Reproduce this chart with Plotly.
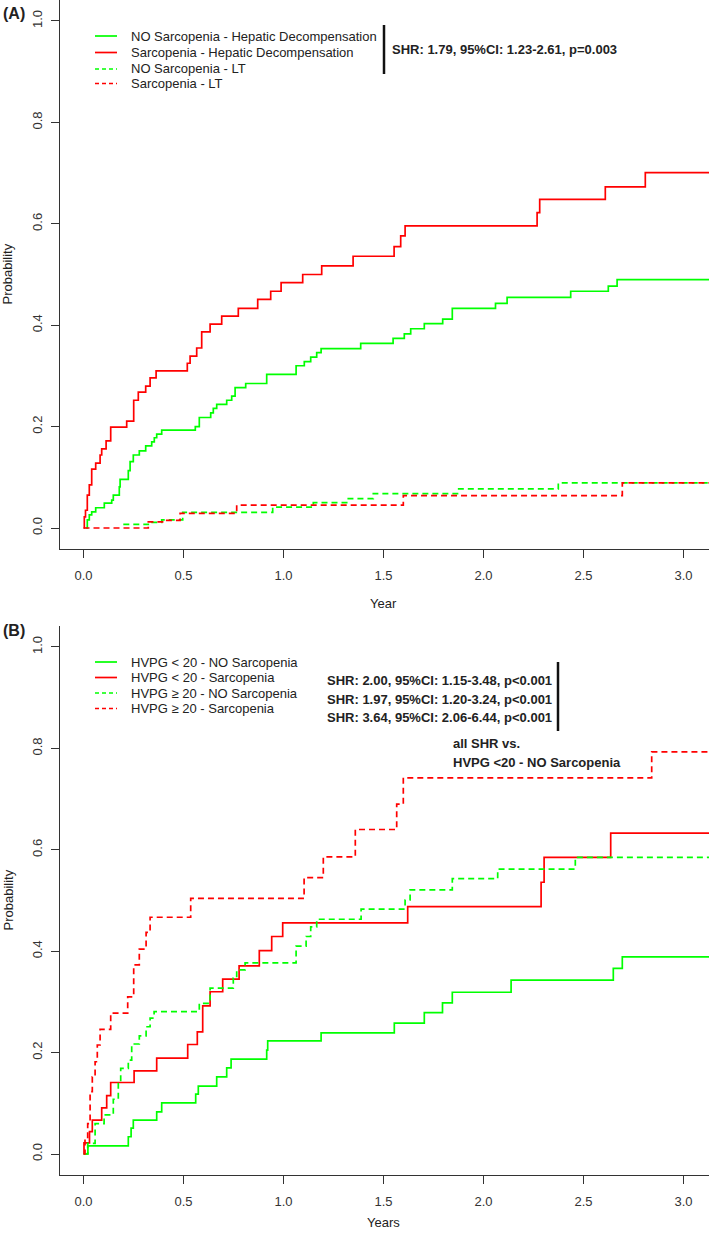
import plotly.graph_objects as go

W, H = 709, 1234
FONT = "Liberation Sans, Arial, Helvetica, sans-serif"

# ---------------- data: panel A ----------------
a_labels = ["NO Sarcopenia - Hepatic Decompensation", "Sarcopenia - Hepatic Decompensation",
            "NO Sarcopenia - LT", "Sarcopenia - LT"]

a_nosarc_hd_x = [0.011, 0.019, 0.029, 0.041, 0.061, 0.104, 0.141, 0.149, 0.179, 0.183, 0.224, 0.233,
                 0.249, 0.279, 0.311, 0.341, 0.354, 0.366, 0.391, 0.559, 0.579, 0.636, 0.649, 0.666,
                 0.716, 0.741, 0.758, 0.811, 0.916, 1.063, 1.104, 1.136, 1.166, 1.188, 1.386, 1.548,
                 1.604, 1.636, 1.704, 1.796, 1.844, 2.060, 2.118, 2.436, 2.624, 2.668, 3.2]
a_nosarc_hd_y = [0, 0.016, 0.026, 0.032, 0.040, 0.049, 0.055, 0.065, 0.081, 0.096, 0.113, 0.131,
                 0.144, 0.152, 0.162, 0.170, 0.178, 0.185, 0.193, 0.200, 0.218, 0.227, 0.236, 0.244,
                 0.252, 0.260, 0.277, 0.285, 0.303, 0.320, 0.328, 0.337, 0.346, 0.354, 0.364, 0.374,
                 0.383, 0.393, 0.403, 0.412, 0.433, 0.443, 0.455, 0.467, 0.477, 0.490, 0.490]

a_sarc_hd_x = [0, 0.004, 0.010, 0.019, 0.029, 0.041, 0.061, 0.083, 0.091, 0.113, 0.136, 0.216,
               0.251, 0.274, 0.311, 0.333, 0.363, 0.519, 0.533, 0.566, 0.591, 0.633, 0.691, 0.774,
               0.871, 0.936, 0.988, 1.096, 1.191, 1.348, 1.553, 1.586, 1.608, 2.268, 2.281, 2.609,
               2.809, 3.2]
a_sarc_hd_y = [0, 0.022, 0.035, 0.065, 0.085, 0.116, 0.128, 0.144, 0.156, 0.172, 0.199, 0.211,
               0.252, 0.268, 0.280, 0.296, 0.310, 0.325, 0.339, 0.355, 0.387, 0.402, 0.418, 0.433,
               0.451, 0.467, 0.484, 0.500, 0.517, 0.536, 0.555, 0.576, 0.596, 0.622, 0.648, 0.673,
               0.701, 0.701]

a_nosarc_lt_x = [0.199, 0.324, 0.391, 0.496, 0.946, 1.149, 1.316, 1.449, 1.876, 2.374, 3.2]
a_nosarc_lt_y = [0.007, 0.011, 0.016, 0.031, 0.041, 0.050, 0.058, 0.068, 0.077, 0.089, 0.089]

a_sarc_lt_x = [0, 0.324, 0.400, 0.483, 0.766, 1.599, 2.694, 3.2]
a_sarc_lt_y = [0, 0.012, 0.015, 0.029, 0.045, 0.064, 0.089, 0.089]

a_shr = "SHR: 1.79, 95%CI: 1.23-2.61, p=0.003"

# ---------------- data: panel B ----------------
b_labels = ["HVPG < 20 - NO Sarcopenia", "HVPG < 20 - Sarcopenia",
            "HVPG \u2265 20 - NO Sarcopenia", "HVPG \u2265 20 - Sarcopenia"]

b_lo_nosarc_x = [0.011, 0.022, 0.224, 0.238, 0.249, 0.366, 0.391, 0.561, 0.574, 0.666, 0.716, 0.738,
                 0.916, 0.921, 1.188, 1.554, 1.704, 1.795, 1.844, 2.138, 2.649, 2.694, 3.2]
b_lo_nosarc_y = [0, 0.016, 0.034, 0.051, 0.067, 0.083, 0.101, 0.118, 0.134, 0.152, 0.170, 0.187,
                 0.205, 0.223, 0.239, 0.258, 0.279, 0.298, 0.319, 0.343, 0.366, 0.389, 0.389]

b_lo_sarc_x = [0, 0.0025, 0.030, 0.044, 0.091, 0.116, 0.136, 0.253, 0.366, 0.521, 0.569, 0.596,
               0.633, 0.696, 0.778, 0.879, 0.941, 0.996, 1.621, 2.288, 2.303, 2.636, 3.2]
b_lo_sarc_y = [0, 0.022, 0.044, 0.067, 0.091, 0.115, 0.141, 0.164, 0.189, 0.216, 0.241, 0.292,
               0.320, 0.345, 0.371, 0.401, 0.429, 0.456, 0.488, 0.536, 0.585, 0.633, 0.633]

b_hi_nosarc_x = [0.0, 0.021, 0.058, 0.103, 0.149, 0.174, 0.186, 0.224, 0.241, 0.279, 0.313, 0.333,
                 0.353, 0.579, 0.633, 0.749, 0.766, 0.808, 1.063, 1.113, 1.136, 1.166, 1.388, 1.608,
                 1.633, 1.844, 2.071, 2.459, 3.2]
b_hi_nosarc_y = [0, 0.021, 0.060, 0.077, 0.108, 0.139, 0.169, 0.185, 0.217, 0.233, 0.251, 0.268,
                 0.281, 0.297, 0.327, 0.347, 0.363, 0.377, 0.410, 0.429, 0.448, 0.463, 0.483, 0.501,
                 0.521, 0.543, 0.562, 0.585, 0.585]

b_hi_sarc_x = [0.0, 0.0075, 0.021, 0.033, 0.044, 0.058, 0.069, 0.083, 0.136, 0.221, 0.251, 0.279,
               0.313, 0.333, 0.536, 1.103, 1.199, 1.359, 1.566, 1.599, 2.841, 3.2]
b_hi_sarc_y = [0, 0.030, 0.060, 0.123, 0.152, 0.182, 0.215, 0.246, 0.278, 0.310, 0.373, 0.404,
               0.437, 0.467, 0.504, 0.545, 0.586, 0.640, 0.690, 0.742, 0.793, 0.793]

b_shr = ["SHR: 2.00, 95%CI: 1.15-3.48, p<0.001",
         "SHR: 1.97, 95%CI: 1.20-3.24, p<0.001",
         "SHR: 3.64, 95%CI: 2.06-6.44, p<0.001"]
b_note = ["all SHR vs.", "HVPG <20 - NO Sarcopenia"]

x_ticks = [0.0, 0.5, 1.0, 1.5, 2.0, 2.5, 3.0]
y_ticks = [0.0, 0.2, 0.4, 0.6, 0.8, 1.0]

# ---------------- styles ----------------
colors = ["#00FF00", "#FF0000", "#00FF00", "#FF0000"]
dashes = ["solid", "solid", "6px,4px", "6px,4px"]
LW = 1.7
AX = "#333333"
TXT = "#222222"


def px(x):
    return x / W


def py(y):
    return 1 - y / H


def esc(s):
    return s.replace("<", "&lt;")


fig = go.Figure()

a_series = [(a_nosarc_hd_x, a_nosarc_hd_y), (a_sarc_hd_x, a_sarc_hd_y),
            (a_nosarc_lt_x, a_nosarc_lt_y), (a_sarc_lt_x, a_sarc_lt_y)]
b_series = [(b_lo_nosarc_x, b_lo_nosarc_y), (b_lo_sarc_x, b_lo_sarc_y),
            (b_hi_nosarc_x, b_hi_nosarc_y), (b_hi_sarc_x, b_hi_sarc_y)]

for i, (xs, ys) in enumerate(a_series):
    fig.add_trace(go.Scatter(x=xs, y=ys, mode="lines", name=a_labels[i], showlegend=False,
                             line=dict(color=colors[i], width=LW, dash=dashes[i], shape="hv"),
                             xaxis="x", yaxis="y"))
for i, (xs, ys) in enumerate(b_series):
    fig.add_trace(go.Scatter(x=xs, y=ys, mode="lines", name=b_labels[i], showlegend=False,
                             line=dict(color=colors[i], width=LW, dash=dashes[i], shape="hv"),
                             xaxis="x2", yaxis="y2"))

# plot geometry (pixels)
X_LEFT = 60
A_TOP, A_BOT = 0.2, 548.8
B_TOP, B_BOT = 626.2, 1174.8
XR = [-0.1175, 3.1275]
YR = [-0.041, 1.041]

axis_common = dict(showline=True, linecolor=AX, linewidth=1.4, ticks="outside", ticklen=8,
                   tickwidth=1.3, tickcolor=AX, showgrid=False, zeroline=False,
                   tickfont=dict(family=FONT, size=13, color="#333333"), mirror=False)

fig.update_layout(
    width=W, height=H, margin=dict(l=0, r=0, t=0, b=0),
    paper_bgcolor="white", plot_bgcolor="white", showlegend=False,
    font=dict(family=FONT, size=13, color=TXT),
    xaxis=dict(domain=[px(X_LEFT), 1], range=XR, anchor="y", tickvals=x_ticks,
               ticktext=[f"{v:.1f}" for v in x_ticks], ticklabelstandoff=6, **axis_common),
    yaxis=dict(domain=[py(A_BOT), py(A_TOP)], range=YR, anchor="x", tickvals=y_ticks,
               ticktext=[f"{v:.1f}" for v in y_ticks], tickangle=-90, ticklabelstandoff=4,
               **axis_common),
    xaxis2=dict(domain=[px(X_LEFT), 1], range=XR, anchor="y2", tickvals=x_ticks,
                ticktext=[f"{v:.1f}" for v in x_ticks], ticklabelstandoff=6, **axis_common),
    yaxis2=dict(domain=[py(B_BOT), py(B_TOP)], range=YR, anchor="x2", tickvals=y_ticks,
                ticktext=[f"{v:.1f}" for v in y_ticks], tickangle=-90, ticklabelstandoff=4,
                **axis_common),
)

ann = []
shapes = []


def text(x, y, s, size=13, bold=False, xanchor="left", angle=0, color=TXT):
    t = esc(s)
    if bold:
        t = "<b>" + t + "</b>"
    ann.append(dict(x=px(x), y=py(y), xref="paper", yref="paper", text=t, showarrow=False,
                    xanchor=xanchor, yanchor="middle", textangle=angle, borderpad=0,
                    font=dict(family=FONT, size=size, color=color)))


# panel labels
text(2, 13, "(A)", size=16, bold=True)
text(2, 630, "(B)", size=16, bold=True)

# axis titles
text(7.5, 274, "Probability", angle=-90, xanchor="center")
text(7.5, 900, "Probability", angle=-90, xanchor="center")
text(383, 603, "Year", xanchor="center")
text(383, 1222, "Years", xanchor="center")

# legends (manual, R style)
a_rows = [36, 52.5, 69, 83.5]
b_rows = [662, 677.5, 693, 708.5]
for rows, labels in ((a_rows, a_labels), (b_rows, b_labels)):
    for i, yy in enumerate(rows):
        shapes.append(dict(type="line", xref="paper", yref="paper", x0=px(95), x1=px(117),
                           y0=py(yy), y1=py(yy),
                           line=dict(color=colors[i], width=LW,
                                     dash="solid" if dashes[i] == "solid" else "4px,3px")))
        text(130, yy, labels[i], size=13)

# SHR annotations
shapes.append(dict(type="line", xref="paper", yref="paper", x0=px(384), x1=px(384),
                   y0=py(25), y1=py(74), line=dict(color="#111111", width=2.5)))
text(391, 49, a_shr, bold=True)

shapes.append(dict(type="line", xref="paper", yref="paper", x0=px(558), x1=px(558),
                   y0=py(662), y1=py(731), line=dict(color="#111111", width=2.5)))
for s, yy in zip(b_shr, [680, 699, 717.5]):
    text(553, yy, s, bold=True, xanchor="right")
for s, yy in zip(b_note, [743, 762]):
    text(452, yy, s, bold=True)

fig.update_layout(annotations=ann, shapes=shapes)

fig.write_html("out.html", config={"displayModeBar": False},
               post_script="document.body.style.margin='0';document.body.style.overflow='hidden';")
